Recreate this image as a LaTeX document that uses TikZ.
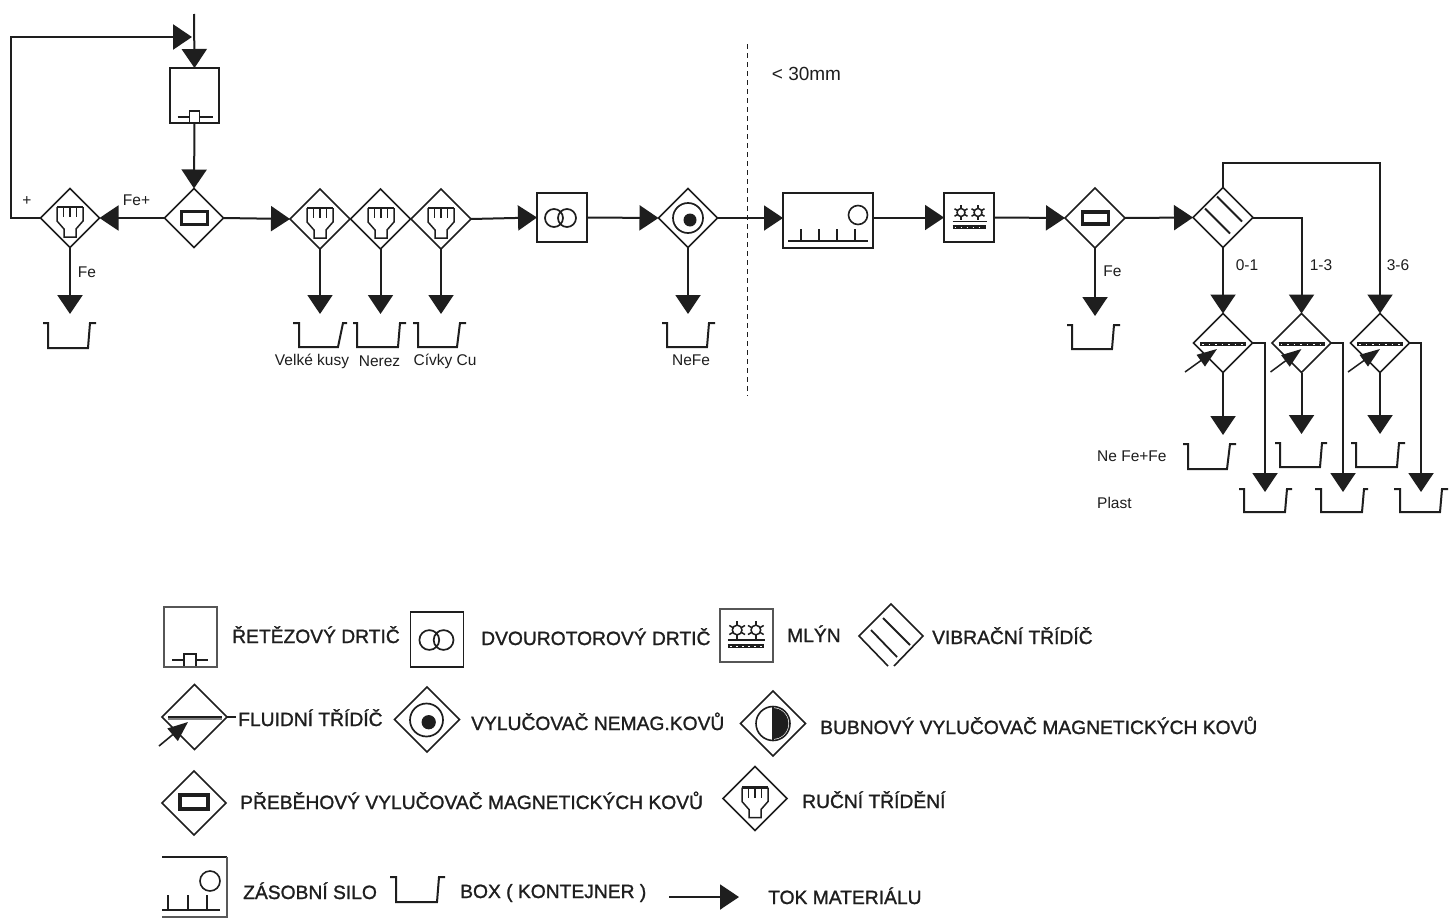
\documentclass[tikz,border=0pt]{standalone}
\usepackage{fontspec}
\setmainfont{Liberation Sans}
\newfontfamily\legfont[FakeBold=1.2]{Liberation Sans}
\usetikzlibrary{shapes.geometric,arrows.meta,calc}
\definecolor{ink}{HTML}{1E1E1E}
\tikzset{
  dia/.style={draw,shape=diamond,aspect=1,inner sep=0pt,outer sep=0pt,minimum width=#1,minimum height=#1,line width=1.6pt},
  dia/.default=59pt,
  procbox/.style={draw,rectangle,inner sep=0pt,outer sep=0pt,line width=1.7pt},
  flow/.style={line width=2pt,-{Triangle[length=19pt,width=25pt]}},
  flowthick/.style={line width=2.5pt,-{Triangle[length=19pt,width=25pt]}},
  minitip/.style={line width=1.5pt,-{Triangle[length=20pt,width=14pt]}},
  binline/.style={line width=2pt},
  lab/.style={inner sep=0pt,font=\fontsize{15.5}{18}\selectfont,text=ink},
  leg/.style={inner sep=0pt,anchor=west,text height=14pt,text depth=0pt,font=\fontsize{19.25}{22}\legfont,text=ink},
  binbox/.style={inner sep=0pt,outer sep=0pt}
}
% bin: name, x0,x1,x2,x3,x4, ytop, ybot
\newcommand\binshape[8]{%
  \draw[binline] (#2,#7) -- (#3,#7) -- (#3,#8) -- (#4,#8) -- (#5,#7) -- (#6,#7);
  \node[binbox,minimum width={(#6-#2)*1pt},minimum height={(#8-#7+9)*1pt}] (#1) at ({(#2+#6)/2},{(#7+#8-9)/2}) {};
}
\newcommand\handicon[2]{\begin{scope}[shift={(#1,#2)},line width=1.5pt]
  \draw[line width=2.2pt] (-13,-11) -- (13,-11);
  \draw (-13,-11) -- (-13,3) -- (-6,11) -- (-6,19) -- (6,19) -- (6,11) -- (13,3) -- (13,-11);
  \draw (-6.5,-11) -- (-6.5,-1) (0,-11) -- (0,-1) (6.5,-11) -- (6.5,-1);
\end{scope}}
\newcommand\magicon[4]{\draw[line width=3.2pt] ({#1-#3},{#2-#4}) rectangle ({#1+#3},{#2+#4});}
\newcommand\nonmagicon[3]{\begin{scope}[shift={(#1,#2)},scale=#3]
  \draw[line width=1.7pt] (0,0) circle[radius=15];
  \fill[ink] (2,2) circle[radius=6.5];
\end{scope}}
\newcommand\rotoricon[3]{\begin{scope}[shift={(#1,#2)},scale=#3]
  \draw[line width=1.7pt] (-7,0) circle[radius=9] (6,0) circle[radius=9];
\end{scope}}
\newcommand\geardraw[3]{\begin{scope}[shift={(#1,#2)},scale=#3]
  \draw[line width=1.5pt] (0,0) circle[radius=4];
  \foreach \a in {30,90,150,210,270,330}{\draw[line width=1.5pt] (\a:4) -- (\a:7.5);}
\end{scope}}
\newcommand\millicon[3]{\begin{scope}[shift={(#1,#2)},scale=#3]
  \geardraw{-8.5}{-5}{#3}\geardraw{8.5}{-5}{#3}
  \draw[line width=1.2pt] (-17,4) -- (17,4);
  \draw[line width=3.5pt] (-17,9.5) -- (16,9.5);
  \draw[white,line width=0.9pt,dash pattern=on 1.5pt off 4.5pt] (-15,9.5) -- (15,9.5);
\end{scope}}
\newcommand\shredicon[2]{\begin{scope}[shift={(#1,#2)},line width=1.6pt]
  \draw (-17,0) -- (-5,0) (5,0) -- (18,0);
  \draw (-5,6) -- (-5,-6) -- (5,-6) -- (5,6);
\end{scope}}
\newcommand\vibricon[2]{\begin{scope}[shift={(#1,#2)},line width=1.8pt]
  \draw (-6,-21) -- (19,4);
  \draw (-18,-9) -- (7,16);
\end{scope}}
\newcommand\fluidicon[4]{%x,y,arrow start dx,arrow end dx
  \begin{scope}[shift={(#1,#2)}]
  \draw[ink,line width=4pt] (-23,1) -- (23,1);
  \draw[white,line width=1pt,dash pattern=on 1.5pt off 5pt] (-21,1) -- (22,1);
  \coordinate (fa) at (#3,29); \coordinate (fb) at (#4,6);
  \draw[minitip] (fa) -- (fb);
  \end{scope}}
\begin{document}
\begin{tikzpicture}[x=1pt,y=-1pt,color=ink]
\useasboundingbox[fill=white] (0,0) rectangle (1450,918);
% ---- process units, top row
\coordinate (in0) at (194,14);
\coordinate (join) at (192,37);
\coordinate (back) at (11,218);
\node[procbox,minimum width=49pt,minimum height=55pt] (shred) at (194.5,95.5) {};
\shredicon{194.5}{117}
\node[dia=59pt] (mag1) at (194,218) {}; \magicon{194.5}{218}{13}{6.5}
\node[dia=59pt] (hand0) at (70,218) {}; \handicon{70}{218}
\node[dia=60pt] (hand1) at (320,219) {}; \handicon{320}{219}
\node[dia=60pt] (hand2) at (380.5,219) {}; \handicon{381}{219}
\node[dia=60pt] (hand3) at (441,219) {}; \handicon{441}{219}
\node[procbox,minimum width=50pt,minimum height=49pt] (rot) at (562,217.5) {};
\rotoricon{561}{218}{1}
\node[dia=59pt] (nonmag) at (688,218) {}; \nonmagicon{688}{218}{1}
\node[procbox,minimum width=90pt,minimum height=55pt,line width=1.9pt] (silo) at (828,220.5) {};
\draw[line width=1.6pt] (858,215) circle[radius=9.5];
\draw[line width=1.9pt] (788,241) -- (868,241);
\draw[line width=1.6pt] (801,229) -- (801,241) (819,229) -- (819,241) (837,229) -- (837,241) (855,229) -- (855,241);
\node[procbox,minimum width=50pt,minimum height=49pt] (mill) at (969,217.5) {};
\millicon{969.5}{217.5}{1}
\node[dia=60pt] (mag2) at (1095,218) {}; \magicon{1095.5}{218}{13}{6}
\node[dia=60pt] (vibr) at (1223,217.5) {}; \vibricon{1223}{217.5}
\node[dia=59pt] (fl1) at (1223,343) {}; \fluidicon{1223}{343}{-38}{-6}
\node[dia=59pt] (fl2) at (1301.5,343) {}; \fluidicon{1301.5}{343}{-31}{0}
\node[dia=59pt] (fl3) at (1380,343) {}; \fluidicon{1380}{343}{-32}{0}
% ---- bins
\binshape{b0}{43}{48}{88}{90}{96}{323}{348}
\binshape{b1}{293}{299}{338}{343}{347}{323}{347}
\binshape{b2}{353}{357}{398}{400}{406}{323}{347}
\binshape{b3}{413}{418}{457}{460}{466}{323}{347}
\binshape{b4}{662}{667}{707}{709}{715}{323}{347}
\binshape{b5}{1067}{1072}{1112}{1114}{1120}{325}{349}
\binshape{b6}{1183}{1188}{1227}{1230}{1236}{444}{469}
\binshape{b7}{1275}{1280}{1320}{1322}{1327}{443}{467}
\binshape{b8}{1351}{1356}{1397}{1399}{1405}{443}{467}
\binshape{b9}{1239}{1244}{1285}{1287}{1292}{489}{512}
\binshape{b10}{1315}{1321}{1362}{1364}{1368}{489}{512}
\binshape{b11}{1394}{1400}{1440}{1442}{1448}{489}{512}
% ---- connectors
\draw[flow] (in0) -- (shred.north);
\draw[flow] (shred.south) -- (mag1.north);
\draw[flow] (mag1.west) -- (hand0.east);
\draw[flowthick] (hand0.west) -- (back) |- (join);
\draw[flowthick] (hand0.south) -- (hand0.south |- b0.north);
\draw[flow] (mag1.east) -- (hand1.west);
\draw[flow] (hand1.south) -- (hand1.south |- b1.north);
\draw[flow] (hand2.south) -- (hand2.south |- b2.north);
\draw[flow] (hand3.south) -- (hand3.south |- b3.north);
\draw[flow] (hand3.east) -- (rot.west);
\draw[flow] (rot.east) -- (nonmag.west);
\draw[flow] (nonmag.south) -- (nonmag.south |- b4.north);
\draw[flow] (nonmag.east) -- (silo.west |- nonmag.east);
\draw[flow] (silo.east |- mill.west) -- (mill.west);
\draw[flow] (mill.east) -- (mag2.west);
\draw[flow] (mag2.south) -- (mag2.south |- b5.north);
\draw[flow] (mag2.east) -- (vibr.west);
\coordinate (over) at (1223,163);
\draw[flow] (vibr.north) -- (over) -| (fl3.north);
\draw[flow] (vibr.east) -| (fl2.north);
\draw[flow] (vibr.south) -- (fl1.north);
\draw[flow] (fl1.south) -- (fl1.south |- b6.north);
\draw[flow] (fl2.south) -- (fl2.south |- b7.north);
\draw[flow] (fl3.south) -- (fl3.south |- b8.north);
\coordinate (e1) at (1265,492);
\coordinate (e2) at (1343,492);
\coordinate (e3) at (1421,492);
\draw[flow] (fl1.east) -| (e1);
\draw[flow] (fl2.east) -| (e2);
\draw[flow] (fl3.east) -| (e3);
% dashed divider
\coordinate (dv1) at (747.5,44); \coordinate (dv2) at (747.5,396);
\draw[line width=0.9pt,dash pattern=on 5pt off 4pt] (dv1) -- (dv2);
% ---- labels
\node[lab] (tplus) at (27,201) {+};
\node[lab] (tfeplus) at (136.5,200.5) {Fe+};
\node[lab] (tfe1) at (87,272) {Fe};
\node[lab] (tvk) at (312,361) {Velké kusy};
\node[lab] (tner) at (379.5,361) {Nerez};
\node[lab] (tciv) at (445,361) {Cívky Cu};
\node[lab] (tnf) at (691,360) {NeFe};
\node[lab] (t30) at (806.5,73.5) {\fontsize{19}{22}\selectfont < 30mm};
\node[lab] (tfe2) at (1112.5,271) {Fe};
\node[lab] (t01) at (1247,265) {0-1};
\node[lab] (t13) at (1321,265) {1-3};
\node[lab] (t36) at (1398,265) {3-6};
\node[lab,anchor=west] (tnff) at (1097,456) {Ne Fe+Fe};
\node[lab,anchor=west] (tpl) at (1097,503) {Plast};
% ---- legend
\node[procbox,minimum width=53pt,minimum height=60pt,draw=ink!75] (l1) at (190.5,637) {};
\begin{scope}[shift={(190,660)},line width=1.4pt]
  \draw (-18,0) -- (-6,0) (6,0) -- (18,0);
  \draw (-6,6) -- (-6,-6) -- (6,-6) -- (6,6);
\end{scope}
\node[leg] (tl1) at (232,636) {ŘETĚZOVÝ DRTIČ};
\node[procbox,minimum width=53pt,minimum height=55pt] (l2) at (437,639.5) {};
\rotoricon{437}{640}{1.1}
\node[leg] (tl2) at (481,638) {DVOUROTOROVÝ DRTIČ};
\node[procbox,minimum width=53pt,minimum height=53pt,draw=ink!75] (l3) at (746.5,635.5) {};
\millicon{746.5}{635.5}{1.1}
\node[leg] (tl3) at (787,635) {MLÝN};
\node[dia=64pt,draw=none] (l4) at (891,636) {};
\draw[line width=1.6pt] (888,666) -- (859,636) -- (891,604) -- (923,636) -- (894,666);
\draw[line width=1.8pt] (883,618) -- (910,645) (871,630) -- (897,657);
\node[leg] (tl4) at (932,637) {VIBRAČNÍ TŘÍDÍČ};
\node[dia=65pt] (l5) at (194.5,717) {};
\draw[gray,line width=4.5pt] (168,718) -- (222,718);
\draw[ink,line width=1.6pt] (168,717) -- (222,717);
\coordinate (l5a) at (159,746); \coordinate (l5b) at (188,722);
\draw[line width=1.6pt,-{Triangle[length=20pt,width=16pt]}] (l5a) -- (l5b);
\coordinate (l5c) at (236,717);
\draw[line width=1.6pt] (l5.east) -- (l5c);
\node[leg] (tl5) at (238,719) {FLUIDNÍ TŘÍDÍČ};
\node[dia=65pt] (l6) at (427,719.5) {}; 
\nonmagicon{426.5}{720}{1.1}
\node[leg] (tl6) at (471,723) {VYLUČOVAČ NEMAG.KOVŮ};
\node[dia=65pt] (l7) at (773,723.5) {};
\draw[line width=1.6pt] (773,723.5) circle[radius=17];
\draw[fill=ink,line width=0.8pt] (773,708.5) arc[start angle=-90,end angle=90,radius=15];
\draw[line width=1.5pt] (773,707) -- (773,740);
\node[leg] (tl7) at (820,727) {BUBNOVÝ VYLUČOVAČ MAGNETICKÝCH KOVŮ};
\node[dia=64pt] (l8) at (194,803) {}; \magicon{194}{802}{14}{7}
\node[leg] (tl8) at (240,802) {PŘEBĚHOVÝ VYLUČOVAČ MAGNETICKÝCH KOVŮ};
\node[dia=64pt] (l9) at (755,798.5) {}; \handicon{755}{798.5}
\node[leg] (tl9) at (802,801) {RUČNÍ TŘÍDĚNÍ};
\draw[line width=1.7pt] (162,857) -- (227,857);
\draw[line width=2.4pt,gray!70!black] (227,857) -- (227,917) -- (162,917);
\draw[line width=1.6pt] (210,881) circle[radius=10];
\draw[line width=1.7pt] (162,910) -- (220,910);
\draw[line width=1.6pt] (168,895) -- (168,910) (188,895) -- (188,910) (207,895) -- (207,910);
\node[leg] (tl10) at (243,892) {ZÁSOBNÍ SILO};
\draw[binline] (390,877) -- (396,877) -- (396,902) -- (437,902) -- (439,877) -- (445,877);
\node[leg] (tl11) at (460,891) {BOX ( KONTEJNER )};
\coordinate (la) at (669,897); \coordinate (lb) at (739,897);
\draw[flow] (la) -- (lb);
\node[leg] (tl12) at (768,897) {TOK MATERIÁLU};
\end{tikzpicture}
\end{document}
